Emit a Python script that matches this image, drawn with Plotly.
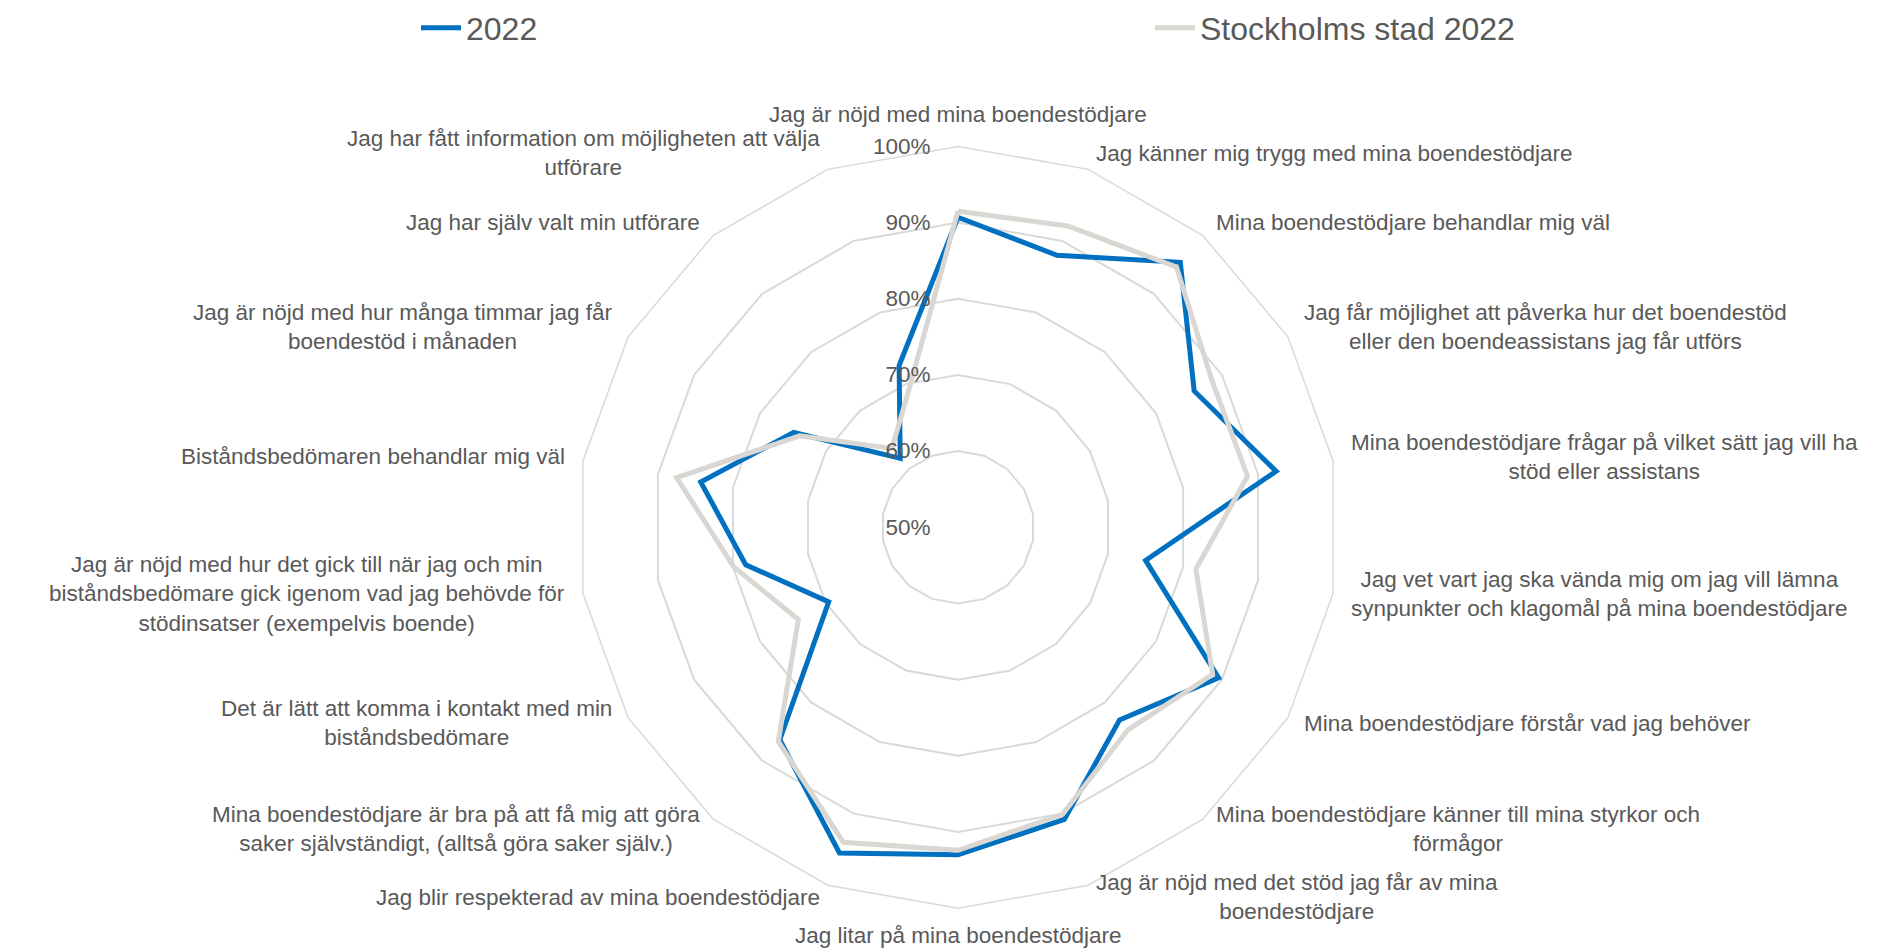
import math
import plotly.graph_objects as go

categories = [
    "Jag är nöjd med mina boendestödjare",
    "Jag känner mig trygg med mina boendestödjare",
    "Mina boendestödjare behandlar mig väl",
    "Jag får möjlighet att påverka hur det boendestöd<br>eller den boendeassistans jag får utförs",
    "Mina boendestödjare frågar på vilket sätt jag vill ha<br>stöd eller assistans",
    "Jag vet vart jag ska vända mig om jag vill lämna<br>synpunkter och klagomål på mina boendestödjare",
    "Mina boendestödjare förstår vad jag behöver",
    "Mina boendestödjare känner till mina styrkor och<br>förmågor",
    "Jag är nöjd med det stöd jag får av mina<br>boendestödjare",
    "Jag litar på mina boendestödjare",
    "Jag blir respekterad av mina boendestödjare",
    "Mina boendestödjare är bra på att få mig att göra<br>saker självständigt, (alltså göra saker själv.)",
    "Det är lätt att komma i kontakt med min<br>biståndsbedömare",
    "Jag är nöjd med hur det gick till när jag och min<br>biståndsbedömare gick igenom vad jag behövde för<br>stödinsatser (exempelvis boende)",
    "Biståndsbedömaren behandlar mig väl",
    "Jag är nöjd med hur många timmar jag får<br>boendestöd i månaden",
    "Jag har själv valt min utförare",
    "Jag har fått information om möjligheten att välja<br>utförare",
]

values_2022 = [90.7, 88.0, 95.4, 85.8, 92.4, 75.0, 89.5, 83.0, 90.8,
               93.0, 95.5, 86.4, 69.6, 78.3, 84.3, 74.9, 61.8, 72.6]
values_stockholm = [91.5, 92.1, 94.6, 88.5, 88.6, 81.7, 88.6, 84.7, 90.1,
                    92.4, 94.0, 86.7, 74.2, 79.9, 87.5, 74.0, 63.5, 69.0]

series_names = ["2022", "Stockholms stad 2022"]
radial_ticks = [50, 60, 70, 80, 90, 100]

FONT = "Liberation Sans, Arial, sans-serif"
TXT = "#595959"
LABEL_SIZE = 22.5

fig = go.Figure()
fig.add_trace(go.Scatterpolar(
    r=values_2022 + values_2022[:1],
    theta=categories + categories[:1],
    mode="lines",
    name=series_names[0],
    line=dict(color="#0070C0", width=5),
    legend="legend",
))
fig.add_trace(go.Scatterpolar(
    r=values_stockholm + values_stockholm[:1],
    theta=categories + categories[:1],
    mode="lines",
    name=series_names[1],
    line=dict(color="#DAD7D2", width=5),
    legend="legend2",
))

W, H = 1895, 952
cx, cy, R = 958, 525.5, 382.5

# category labels placed just outside the outer polygon, lines centred
n = len(categories)
annotations = []
for i, lab in enumerate(categories):
    th = math.radians(i * 360.0 / n)
    s, c = math.sin(th), math.cos(th)
    rr = R + 15
    px, py = cx + rr * s, cy - rr * c - 2
    if abs(s) < 1e-6:
        xa, ya = "center", ("bottom" if c > 0 else "top")
    else:
        xa, ya = ("left" if s > 0 else "right"), "middle"
    annotations.append(dict(
        text=lab, x=px / W, y=1 - py / H, xref="paper", yref="paper",
        xanchor=xa, yanchor=ya, align="center", showarrow=False,
        font=dict(size=LABEL_SIZE, color=TXT, family=FONT),
    ))

legend_common = dict(
    orientation="h",
    yanchor="middle",
    font=dict(size=32, color=TXT, family=FONT),
    bgcolor="rgba(0,0,0,0)",
    itemwidth=40,
)

fig.update_layout(
    width=W, height=H,
    margin=dict(l=0, r=0, t=0, b=0),
    paper_bgcolor="white",
    plot_bgcolor="white",
    font=dict(family=FONT, color=TXT, size=LABEL_SIZE),
    showlegend=True,
    legend=dict(x=416 / W, xanchor="left", y=1.0 - 24 / H, **legend_common),
    legend2=dict(x=1150 / W, xanchor="left", y=1.0 - 24 / H, **legend_common),
    annotations=annotations,
    polar=dict(
        domain=dict(x=[(cx - R) / W, (cx + R) / W],
                    y=[(H - cy - R) / H, (H - cy + R) / H]),
        bgcolor="white",
        gridshape="linear",
        radialaxis=dict(
            range=[50, 100],
            tickvals=radial_ticks,
            ticktext=[f"{v}%" for v in radial_ticks],
            angle=90,
            side="counterclockwise",
            tickangle=90,
            showline=False,
            ticks="outside",
            ticklen=19,
            tickcolor="rgba(0,0,0,0)",
            showgrid=True,
            gridcolor="#D9D9D9",
            gridwidth=1.5,
            tickfont=dict(size=LABEL_SIZE, color=TXT, family=FONT),
        ),
        angularaxis=dict(
            rotation=90,
            direction="clockwise",
            showgrid=False,
            showline=True,
            linecolor="#D9D9D9",
            linewidth=1.5,
            ticks="",
            showticklabels=False,
        ),
    ),
)

fig.write_html("out.html")
